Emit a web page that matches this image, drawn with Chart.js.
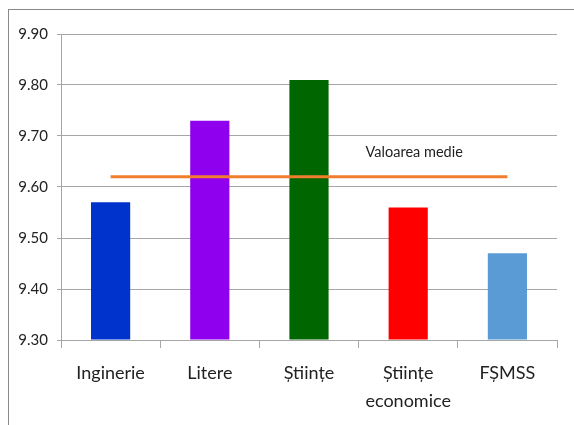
<!DOCTYPE html>
<html>
<head>
<meta charset="utf-8">
<script src="https://cdn.jsdelivr.net/npm/chart.js@4/dist/chart.umd.min.js"></script>
<style>
  body { margin: 0; background: #fff; }
  #frame {
    position: absolute; left: 8px; top: 9px; width: 566px; height: 416px;
    border-left: 1px solid #8a8a8a; border-top: 1px solid #8a8a8a;
  }
  #wrap { width: 565px; height: 415px; }
</style>
</head>
<body>
<div id="frame"><div id="wrap"><canvas id="chart"></canvas></div></div>
<script>
// faculty names and average grades
const faculties = ['Inginerie', 'Litere', 'Științe', ['Științe', 'economice'], 'FȘMSS'];
const grades = [9.57, 9.73, 9.81, 9.56, 9.47];
const barColors = ['#0033CC', '#8E00EE', '#006600', '#FF0000', '#5B9BD5'];
const meanGrade = [9.62, 9.62, 9.62, 9.62, 9.62];
const meanLabel = 'Valoarea medie';

const FONT = "Lato, 'DejaVu Sans Condensed', sans-serif";
const GRID = '#a6a6a6';

const meanLabelPlugin = {
  id: 'meanLabel',
  afterDatasetsDraw(chart) {
    const { ctx, scales } = chart;
    const x = scales.x.getPixelForValue(3) + 6;
    const y = scales.y.getPixelForValue(meanGrade[3]) - 24;
    ctx.save();
    ctx.font = '14.5px ' + FONT;
    ctx.fillStyle = '#222';
    ctx.textAlign = 'center';
    ctx.textBaseline = 'middle';
    ctx.fillText(meanLabel, x, y);
    ctx.restore();
  },
};

new Chart(document.getElementById('chart'), {
  type: 'bar',
  data: {
    labels: faculties,
    datasets: [
      {
        type: 'line',
        data: meanGrade,
        borderColor: '#F07E2E',
        borderWidth: 3,
        pointRadius: 0,
        fill: false,
        order: 0,
      },
      {
        data: grades,
        base: 9.3,
        backgroundColor: barColors,
        barPercentage: 0.5,
        categoryPercentage: 0.79,
        order: 1,
      },
    ],
  },
  options: {
    responsive: true,
    maintainAspectRatio: false,
    animation: false,
    layout: { padding: { top: 24, right: 17, left: 0, bottom: 0 } },
    plugins: { legend: { display: false }, tooltip: { enabled: false } },
    scales: {
      x: {
        offset: true,
        grid: { display: true, drawOnChartArea: false, offset: true, color: GRID, tickLength: 8 },
        border: { color: GRID },
        ticks: {
          color: '#222',
          font: { family: FONT, size: 18, lineHeight: 1.55 },
          padding: 11,
          maxRotation: 0,
          autoSkip: false,
        },
        afterFit(scale) { scale.height = 85; },
      },
      y: {
        min: 9.3,
        max: 9.9,
        grid: { color: GRID, tickLength: 4 },
        border: { color: GRID },
        ticks: {
          stepSize: 0.1,
          color: '#222',
          font: { family: FONT, size: 15 },
          padding: 9,
          callback: (v) => v.toFixed(2),
        },
        afterFit(scale) { scale.width = 52; },
      },
    },
  },
  plugins: [meanLabelPlugin],
});
</script>
</body>
</html>
